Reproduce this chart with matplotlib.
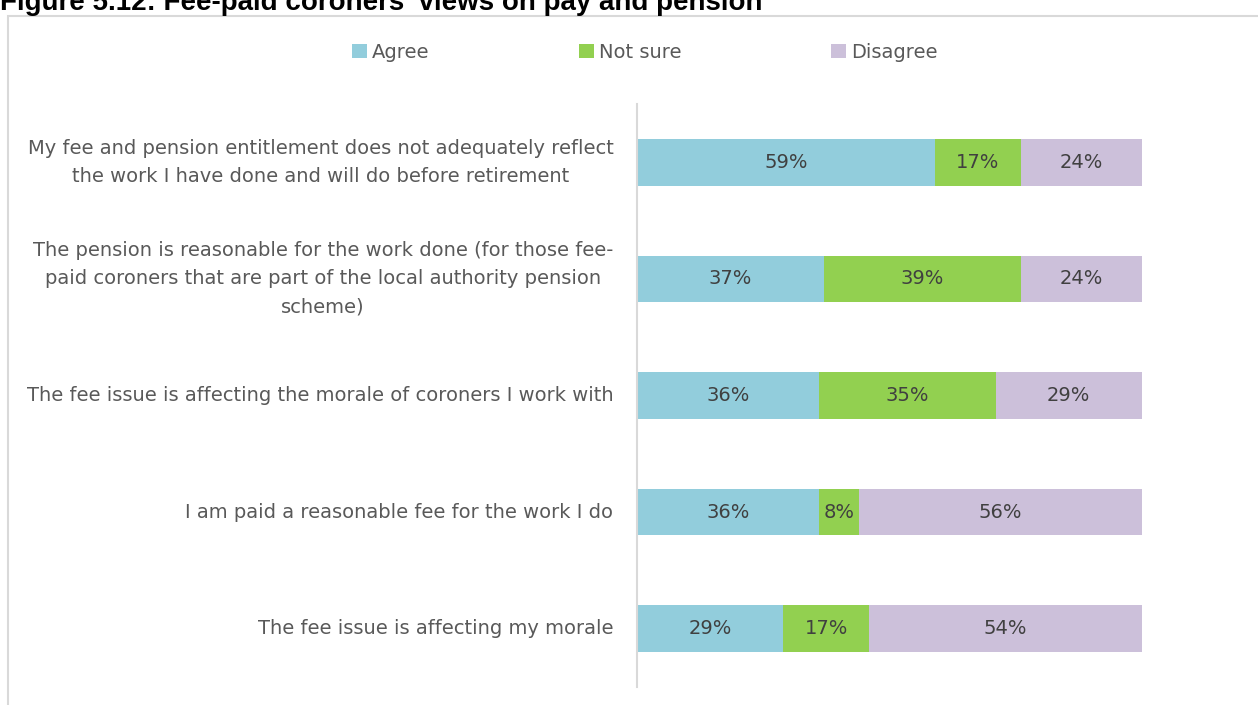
import matplotlib.pyplot as plt
from matplotlib.patches import Rectangle

# survey statements, top to bottom
statements = [
    "My fee and pension entitlement does not adequately reflect\nthe work I have done and will do before retirement",
    "The pension is reasonable for the work done (for those fee-\npaid coroners that are part of the local authority pension\nscheme)",
    "The fee issue is affecting the morale of coroners I work with",
    "I am paid a reasonable fee for the work I do",
    "The fee issue is affecting my morale",
]
agree = [59, 37, 36, 36, 29]
not_sure = [17, 39, 35, 8, 17]
disagree = [24, 24, 29, 56, 54]

series = [("Agree", agree, "#92CDDC"),
          ("Not sure", not_sure, "#92D050"),
          ("Disagree", disagree, "#CCC0DA")]

plt.rcParams['font.family'] = ['DejaVu Sans']
text_col = "#595959"

fig = plt.figure(figsize=(12.58, 7.05), dpi=100)
W, H = 1258, 705

# outer frame of the chart area
fig.patches.append(Rectangle((8 / W, -0.1), 1.2, 1.1 - 16 / H, transform=fig.transFigure,
                             fill=False, edgecolor="#D9D9D9", lw=1.5))

fig.text(0, 1 - 10 / H, "Figure 5.12: Fee-paid coroners' views on pay and pension",
         fontsize=20, fontweight="bold", color="black", ha="left", va="baseline",
         family="Liberation Sans")

ax = fig.add_axes([637 / W, 1 - 687 / H, (1142 - 637) / W, (687 - 104) / H])
ypos = list(range(len(statements)))[::-1]

left = [0] * len(statements)
for name, vals, col in series:
    bars = ax.barh(ypos, vals, left=left, height=0.4, color=col, label=name)
    for b, v in zip(bars, vals):
        ax.text(b.get_x() + b.get_width() / 2, b.get_y() + b.get_height() / 2, f"{v}%",
                ha="center", va="center", fontsize=14, color="#404040")
    left = [l + v for l, v in zip(left, vals)]

ax.set_xlim(0, 100)
ax.set_ylim(-0.5, 4.5)
ax.set_xticks([])
ax.set_yticks(ypos)
ax.set_yticklabels(statements, fontsize=14, color=text_col, linespacing=1.6)
for lab in ax.get_yticklabels():
    lab.set_multialignment("center")
    lab.set_verticalalignment("center")
ax.tick_params(axis="y", length=0, pad=17)
for s in ["top", "right", "bottom"]:
    ax.spines[s].set_visible(False)
ax.spines["left"].set_color("#D9D9D9")
ax.spines["left"].set_linewidth(1.5)

fig.legend(loc="center", bbox_to_anchor=(0.5 + 16 / W, 1 - 52 / H), ncol=3, frameon=False,
           fontsize=14, labelcolor=text_col, handlelength=0.77, handleheight=0.7,
           handletextpad=0.26, columnspacing=7.7)

fig.savefig("out.png", dpi=100)
